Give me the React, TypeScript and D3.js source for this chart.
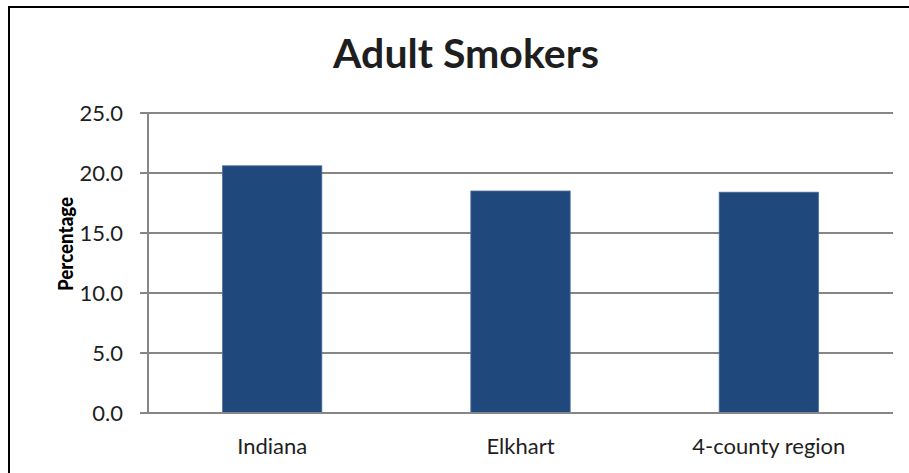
import React, { useEffect, useRef } from "react";
import * as d3 from "d3";

const categories = ["Indiana", "Elkhart", "4-county region"];
const values = [20.6, 18.5, 18.4];
const yTicks = [0, 5, 10, 15, 20, 25];
const title = "Adult Smokers";
const yLabel = "Percentage";

export default function App() {
  const ref = useRef<SVGSVGElement>(null);
  useEffect(() => {
    const svg = d3.select(ref.current);
    svg.selectAll("*").remove();
    const W = 909, H = 473;
    const m = { left: 148, right: 893, top: 113, bottom: 413 };
    const font = "Lato, 'Open Sans', sans-serif";

    svg.append("rect").attr("width", W).attr("height", H).attr("fill", "#fff");
    // frame
    svg.append("line").attr("x1", 8).attr("x2", W).attr("y1", 7).attr("y2", 7)
      .attr("stroke", "#000").attr("stroke-width", 2);
    svg.append("line").attr("x1", 9).attr("x2", 9).attr("y1", 6).attr("y2", H)
      .attr("stroke", "#000").attr("stroke-width", 2);

    const x = d3.scaleBand().domain(categories).range([m.left, m.right]).paddingInner(0.6).paddingOuter(0.3);
    const y = d3.scaleLinear().domain([0, 25]).range([m.bottom, m.top]);

    const g = svg.append("g");
    // gridlines
    g.selectAll(".grid").data(yTicks.filter(t => t > 0)).enter().append("line")
      .attr("x1", m.left).attr("x2", m.right)
      .attr("y1", d => y(d)).attr("y2", d => y(d))
      .attr("stroke", "#868686").attr("stroke-width", 2);
    // tick marks
    g.selectAll(".tick").data(yTicks).enter().append("line")
      .attr("x1", m.left - 8).attr("x2", m.left)
      .attr("y1", d => y(d)).attr("y2", d => y(d))
      .attr("stroke", "#868686").attr("stroke-width", 2);
    // tick labels
    g.selectAll(".tl").data(yTicks).enter().append("text")
      .attr("x", m.left - 25).attr("y", d => y(d)).attr("dy", "0.36em")
      .attr("text-anchor", "end").attr("font-family", font).attr("font-size", 22)
      .attr("fill", "#1e1e1e").text(d => d3.format(".1f")(d));

    // bars
    g.selectAll(".bar").data(values).enter().append("rect")
      .attr("x", (_, i) => x(categories[i])!)
      .attr("width", x.bandwidth())
      .attr("y", d => y(d))
      .attr("height", d => y(0) - y(d))
      .attr("fill", "#1f497d")
      .attr("stroke", "#4a6f9c").attr("stroke-width", 0.8);

    // axes lines
    g.append("line").attr("x1", m.left).attr("x2", m.left).attr("y1", m.top).attr("y2", m.bottom)
      .attr("stroke", "#868686").attr("stroke-width", 2);
    g.append("line").attr("x1", m.left - 8).attr("x2", m.right).attr("y1", m.bottom).attr("y2", m.bottom)
      .attr("stroke", "#868686").attr("stroke-width", 2);

    // category labels
    g.selectAll(".cl").data(categories).enter().append("text")
      .attr("x", d => x(d)! + x.bandwidth() / 2).attr("y", 454)
      .attr("text-anchor", "middle").attr("font-family", font).attr("font-size", 22)
      .attr("fill", "#1e1e1e").text(d => d);

    // title
    svg.append("text").attr("x", 466).attr("y", 68).attr("text-anchor", "middle")
      .attr("font-family", font).attr("font-weight", "bold").attr("font-size", 41)
      .attr("fill", "#1e1e1e").text(title);

    // y label
    svg.append("text").attr("transform", "translate(73,244) rotate(-90)")
      .attr("text-anchor", "middle").attr("font-family", font).attr("font-weight", "900")
      .attr("font-size", 21).attr("textLength", 94).attr("lengthAdjust", "spacingAndGlyphs")
      .attr("fill", "#000").text(yLabel);
  }, []);
  return (
    <svg ref={ref} width={909} height={473}
      style={{ position: "absolute", left: 0, top: 0, display: "block" }} />
  );
}
